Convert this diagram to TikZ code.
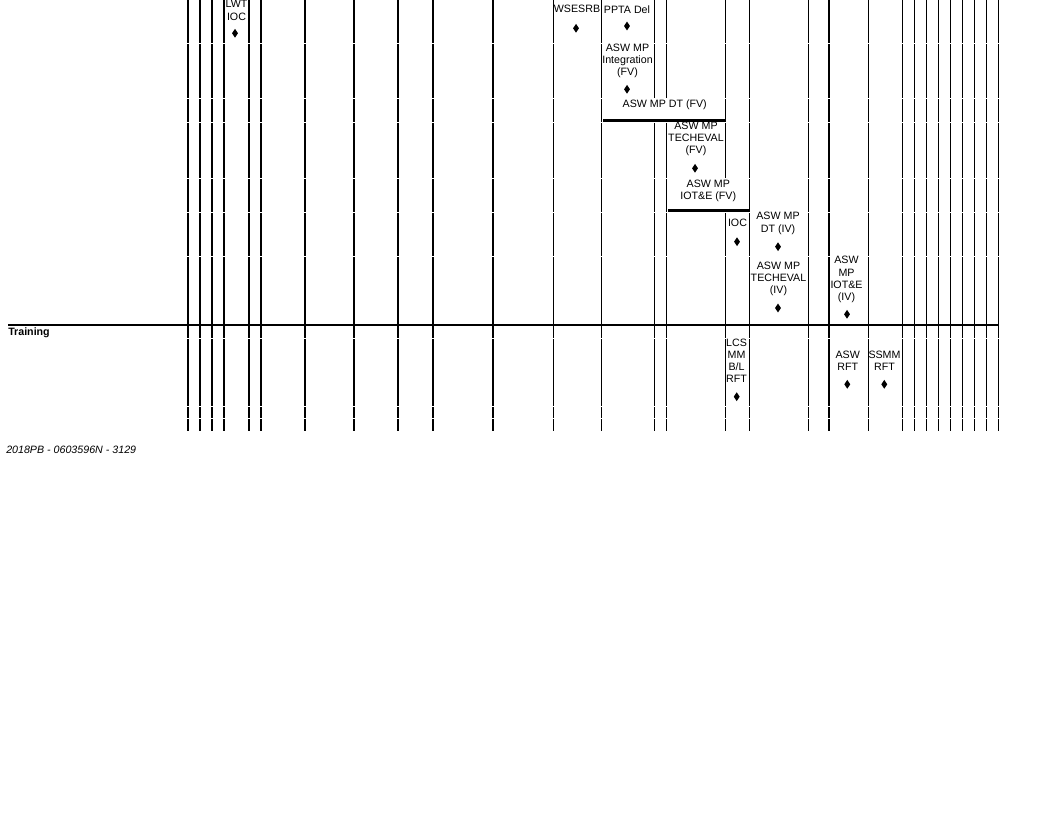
\documentclass[tikz,border=0pt]{standalone}
\usepackage{fontspec}
\setmainfont{Liberation Sans}
\usetikzlibrary{shapes.geometric}

\begin{document}
\begin{tikzpicture}[x=.75pt,y=-.75pt,
every node/.style={align=center,inner sep=0pt,font=\fontsize{8}{9.2}\selectfont},
ms/.style={diamond,fill=black,minimum width=4.6pt,minimum height=6.8pt},
cellline/.style={line width=.85pt},
thickbar/.style={line width=2pt}]
\useasboundingbox (0,0) rectangle (1056,816);
% columns that run through every row
\foreach \x in {188,200,212,224,249,261,305,354,398,433,493,553.5,601.5,749.3,808.7,829,868.3,902.7,914.7,926.7,938.7,950.7,962.7,974.7,986.7,998.7}
  \foreach \ya/\yb in {0/42.8,43.8/98.5,99.5/121.8,122.8/177.8,178.8/211.8,212.8/256.2,257.2/324.5,325.5/337.8,338.8/406.2,407.2/417.8,418.8/430.7}
    \draw[cellline] (\x,\ya) -- (\x,\yb);
% columns broken by merged cells
\foreach \x in {654.7,666.5}
  \foreach \ya/\yb in {0/42.8,43.8/98.5,122.8/177.8,178.8/211.8,212.8/256.2,257.2/324.5,325.5/337.8,338.8/406.2,407.2/417.8,418.8/430.7}
    \draw[cellline] (\x,\ya) -- (\x,\yb);
\foreach \ya/\yb in {0/42.8,43.8/98.5,99.5/121.8,122.8/177.8,212.8/256.2,257.2/324.5,325.5/337.8,338.8/406.2,407.2/417.8,418.8/430.7}
  \draw[cellline] (725.7,\ya) -- (725.7,\yb);
\draw[cellline] (8,325) -- (998.7,325);
\draw[thickbar] (603,120.3) -- (725.7,120.3);
\draw[thickbar] (668,210.7) -- (749.3,210.7);
% events
\node (lwt) at (236.5,10.3) {LWT\\IOC};
\node[ms] (lwt-ms) at (235,33.3) {};
\node (wsesrb) at (577,9.3) {WSESRB};
\node[ms] (wsesrb-ms) at (576,28.3) {};
\node (ppta) at (627,9.3) {PPTA Del};
\node[ms] (ppta-ms) at (627,26) {};
\node (integ) at (627.5,61) {ASW MP\\Integration\\(FV)};
\node[ms] (integ-ms) at (627,89.3) {};
\node (dtfv) at (664.7,104.3) {ASW MP DT (FV)};
\node (tevfv) at (696,139) {ASW MP\\TECHEVAL\\(FV)};
\node[ms] (tevfv-ms) at (695,168.3) {};
\node (iotfv) at (708.3,191) {ASW MP\\IOT\&E (FV)};
\node (ioc) at (737.5,223.3) {IOC};
\node[ms] (ioc-ms) at (737,241.7) {};
\node (dtiv) at (778,223.5) {ASW MP\\DT (IV)};
\node[ms] (dtiv-ms) at (778,246.7) {};
\node (teviv) at (778.5,279) {ASW MP\\TECHEVAL\\(IV)};
\node[ms] (teviv-ms) at (778,308) {};
\node (iotiv) at (846.5,279.7) {ASW\\MP\\IOT\&E\\(IV)};
\node[ms] (iotiv-ms) at (847,314.3) {};
\node (lcs) at (736.5,360.8) {LCS\\MM\\B/L\\RFT};
\node[ms] (lcs-ms) at (736.7,396.7) {};
\node (aswrft) at (847.7,360.7) {ASW\\RFT};
\node[ms] (aswrft-ms) at (847.3,384.3) {};
\node (ssmm) at (884.5,360.7) {SSMM\\RFT};
\node[ms] (ssmm-ms) at (884.3,384.3) {};
\node[anchor=base west,font=\fontsize{8}{9}\selectfont\bfseries] (training) at (8,335) {Training};
\node[anchor=base west,font=\fontsize{8}{9}\selectfont\itshape] (pbid) at (6,453) {2018PB - 0603596N - 3129};
\end{tikzpicture}
\end{document}
